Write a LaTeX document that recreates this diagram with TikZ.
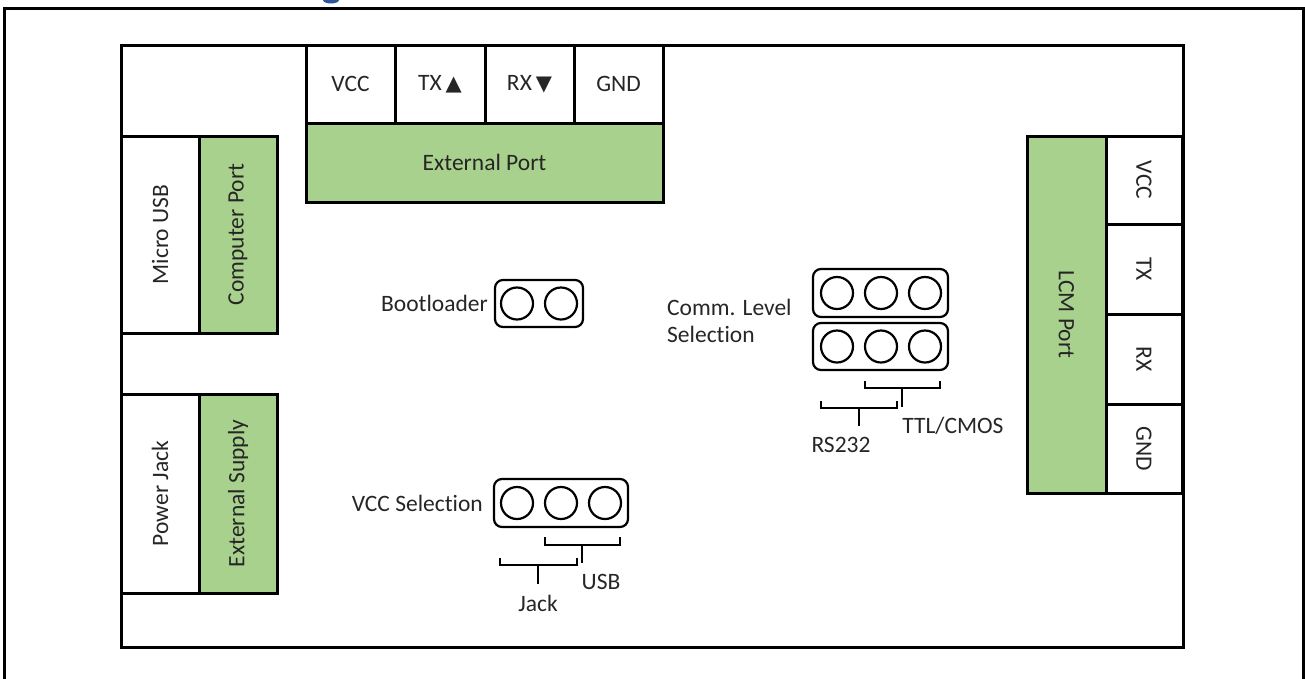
\documentclass[tikz,border=0pt]{standalone}
\usepackage{fontspec}
\setmainfont[Ligatures={NoCommon}]{Carlito}
\newfontfamily\symfont{DejaVu Sans}
\definecolor{portgreen}{RGB}{169,209,142}
\definecolor{titleblue}{RGB}{47,85,151}
\definecolor{textgray}{RGB}{38,38,38}
\begin{document}
\begin{tikzpicture}[x=1pt,y=-1pt,
  font=\fontsize{23.5}{27}\selectfont, text=textgray,
  thick box/.style={draw, line width=3pt, inner sep=0pt},
  pinbox/.style={thick box, fill=white},
  greenbox/.style={thick box, fill=portgreen},
  jumper/.style={draw, line width=2.2pt, rounded corners=8pt, inner sep=0pt},
  pinhole/.style={draw, circle, line width=2.2pt, minimum size=32pt, inner sep=0pt},
  brk/.style={draw, line width=2pt},
  lbl/.style={inner sep=0pt}]
\useasboundingbox (0,0) rectangle (1305,678);
% title fragment (cut off at the top)
\fill[titleblue] (331,0) ellipse (8 and 3.5);
% outer frame (open at the bottom)
\draw[line width=3pt] (4,690) -- (4,8) -- (1303,8) -- (1303,690);
% board
\node[thick box, minimum width=1062pt, minimum height=602pt] (board) at (652,346) {};
% external port
\node[pinbox, minimum width=89pt, minimum height=78pt] (evcc) at (350.5,84) {VCC};
\node[pinbox, minimum width=90pt, minimum height=78pt] (etx) at (440,84) {TX\,{\symfont\fontsize{21}{22}\selectfont ▲}};
\node[pinbox, minimum width=89pt, minimum height=78pt] (erx) at (529.5,84) {RX\,{\symfont\fontsize{21}{22}\selectfont ▼}};
\node[pinbox, minimum width=89pt, minimum height=78pt] (egnd) at (618.5,84) {GND};
\node[greenbox, minimum width=357pt, minimum height=79pt] (eport) at (484.5,162.5) {External Port};
% computer port
\node[pinbox, minimum width=78pt, minimum height=197pt] (musb) at (160,234.5) {};
\node[lbl, rotate=90] at (musb.center) {Micro USB};
\node[greenbox, minimum width=78pt, minimum height=197pt] (cport) at (238,234.5) {};
\node[lbl, rotate=90] at (cport.center) {Computer Port};
% external supply
\node[pinbox, minimum width=78pt, minimum height=199pt] (pjack) at (160,493.5) {};
\node[lbl, rotate=90] at (pjack.center) {Power Jack};
\node[greenbox, minimum width=78pt, minimum height=199pt] (esupply) at (238,493.5) {};
\node[lbl, rotate=90] at (esupply.center) {External Supply};
% LCM port
\node[greenbox, minimum width=79pt, minimum height=357pt] (lcm) at (1066.5,314.5) {};
\node[lbl, rotate=-90] at (lcm.center) {LCM Port};
\node[pinbox, minimum width=76pt, minimum height=88pt] (lvcc) at (1144,180) {};
\node[lbl, rotate=-90] at (lvcc.center) {VCC};
\node[pinbox, minimum width=76pt, minimum height=90pt] (ltx) at (1144,269) {};
\node[lbl, rotate=-90] at (ltx.center) {TX};
\node[pinbox, minimum width=76pt, minimum height=90pt] (lrx) at (1144,359) {};
\node[lbl, rotate=-90] at (lrx.center) {RX};
\node[pinbox, minimum width=76pt, minimum height=89pt] (lgnd) at (1144,448.5) {};
\node[lbl, rotate=-90] at (lgnd.center) {GND};
% bootloader jumper
\node[jumper, minimum width=88pt, minimum height=47pt] (boot) at (539,303.5) {};
\node[pinhole] (b1) at (517,303.5) {};
\node[pinhole] (b2) at (561,303.5) {};
\node[lbl, anchor=east] (bootlbl) at (488,303) {Bootloader};
% comm level jumpers
\node[jumper, minimum width=135pt, minimum height=48pt] (cup) at (880.5,293) {};
\node[pinhole] (c1) at (837,293) {};
\node[pinhole] (c2) at (881,293) {};
\node[pinhole] (c3) at (925,293) {};
\node[jumper, minimum width=135pt, minimum height=47pt] (clow) at (880.5,346.5) {};
\node[pinhole] (c4) at (837,346.5) {};
\node[pinhole] (c5) at (881,346.5) {};
\node[pinhole] (c6) at (925,346.5) {};
\node[lbl, anchor=west, align=left] (commlbl) at (667,321) {Comm. Level\\Selection};
% comm brackets
\draw[brk] (865,381) -- (865,388) -- (940,388) -- (940,381);
\draw[brk] (902,388) -- (902,407);
\draw[brk] (821,401) -- (821,408) -- (897,408) -- (897,401);
\draw[brk] (859,408) -- (859,426);
\node[lbl] (ttl) at (953,426) {TTL/CMOS};
\node[lbl] (rs) at (841,445) {RS232};
% VCC selection jumper
\node[jumper, minimum width=134pt, minimum height=48pt] (vsel) at (561,503) {};
\node[pinhole] (v1) at (517,503) {};
\node[pinhole] (v2) at (561,503) {};
\node[pinhole] (v3) at (605,503) {};
\node[lbl, anchor=east] (vlbl) at (483,503) {VCC Selection};
% VCC brackets
\draw[brk] (545,537) -- (545,545) -- (620,545) -- (620,537);
\draw[brk] (582,545) -- (582,563);
\draw[brk] (500,558) -- (500,565) -- (577,565) -- (577,558);
\draw[brk] (538,565) -- (538,584);
\node[lbl] (usb) at (601,582) {USB};
\node[lbl] (jack) at (538,603) {Jack};
\end{tikzpicture}
\end{document}
